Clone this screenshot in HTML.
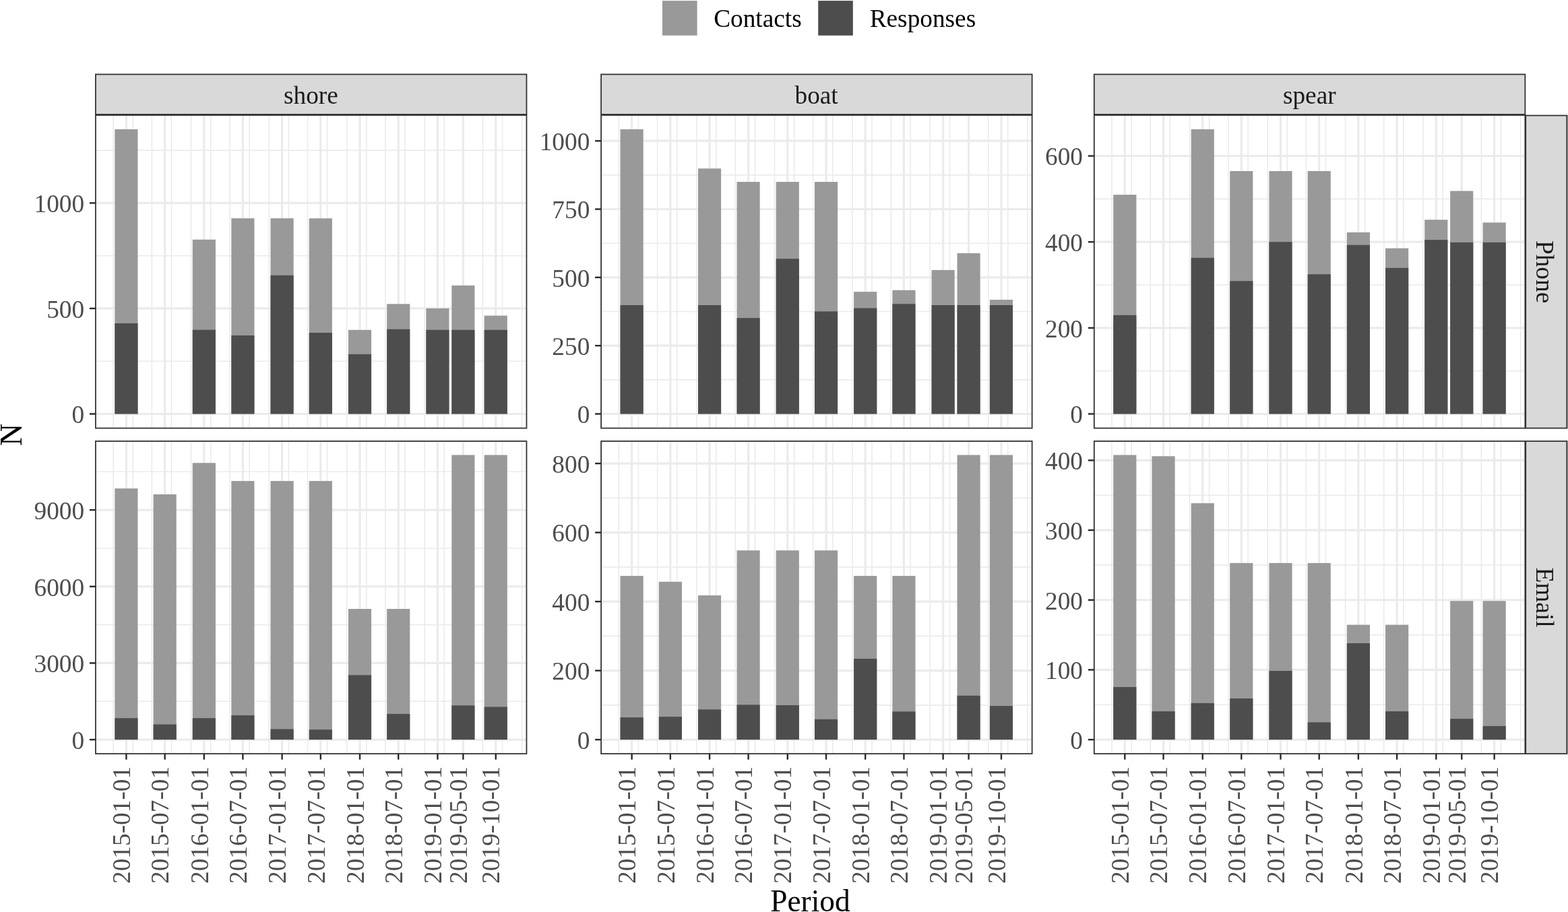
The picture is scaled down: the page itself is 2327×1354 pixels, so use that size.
<!DOCTYPE html>
<html><head><meta charset="utf-8"><title>Contacts and Responses by Period</title>
<style>
html,body{margin:0;padding:0;background:#fff;}
body{width:2327px;height:1354px;overflow:hidden;}
svg{display:block;}
text{font-family:"Liberation Serif","Times New Roman",serif;}
.ax{font-size:37.3px;fill:#4D4D4D;}
.st{font-size:37.3px;fill:#1A1A1A;}
.lg{font-size:37.3px;fill:#000000;}
.ti{font-size:46.0px;fill:#000000;}
</style></head>
<body>
<svg width="2327" height="1354" viewBox="0 0 2327 1354">
<rect width="2327" height="1354" fill="#FFFFFF"/>
<g>
<line x1="141.4" x2="781.45" y1="536.23" y2="536.23" stroke="#EBEBEB" stroke-width="1.6"/>
<line x1="141.4" x2="781.45" y1="379.68" y2="379.68" stroke="#EBEBEB" stroke-width="1.6"/>
<line x1="141.4" x2="781.45" y1="223.12" y2="223.12" stroke="#EBEBEB" stroke-width="1.6"/>
<line x1="168.13" x2="168.13" y1="171.4" y2="635.6" stroke="#EBEBEB" stroke-width="1.6"/>
<line x1="197.22" x2="197.22" y1="171.4" y2="635.6" stroke="#EBEBEB" stroke-width="1.6"/>
<line x1="225.37" x2="225.37" y1="171.4" y2="635.6" stroke="#EBEBEB" stroke-width="1.6"/>
<line x1="254.46" x2="254.46" y1="171.4" y2="635.6" stroke="#EBEBEB" stroke-width="1.6"/>
<line x1="283.55" x2="283.55" y1="171.4" y2="635.6" stroke="#EBEBEB" stroke-width="1.6"/>
<line x1="312.64" x2="312.64" y1="171.4" y2="635.6" stroke="#EBEBEB" stroke-width="1.6"/>
<line x1="341.1" x2="341.1" y1="171.4" y2="635.6" stroke="#EBEBEB" stroke-width="1.6"/>
<line x1="370.2" x2="370.2" y1="171.4" y2="635.6" stroke="#EBEBEB" stroke-width="1.6"/>
<line x1="399.29" x2="399.29" y1="171.4" y2="635.6" stroke="#EBEBEB" stroke-width="1.6"/>
<line x1="428.38" x2="428.38" y1="171.4" y2="635.6" stroke="#EBEBEB" stroke-width="1.6"/>
<line x1="456.52" x2="456.52" y1="171.4" y2="635.6" stroke="#EBEBEB" stroke-width="1.6"/>
<line x1="485.62" x2="485.62" y1="171.4" y2="635.6" stroke="#EBEBEB" stroke-width="1.6"/>
<line x1="514.71" x2="514.71" y1="171.4" y2="635.6" stroke="#EBEBEB" stroke-width="1.6"/>
<line x1="543.8" x2="543.8" y1="171.4" y2="635.6" stroke="#EBEBEB" stroke-width="1.6"/>
<line x1="571.94" x2="571.94" y1="171.4" y2="635.6" stroke="#EBEBEB" stroke-width="1.6"/>
<line x1="601.04" x2="601.04" y1="171.4" y2="635.6" stroke="#EBEBEB" stroke-width="1.6"/>
<line x1="630.13" x2="630.13" y1="171.4" y2="635.6" stroke="#EBEBEB" stroke-width="1.6"/>
<line x1="659.22" x2="659.22" y1="171.4" y2="635.6" stroke="#EBEBEB" stroke-width="1.6"/>
<line x1="716.46" x2="716.46" y1="171.4" y2="635.6" stroke="#EBEBEB" stroke-width="1.6"/>
<line x1="745.55" x2="745.55" y1="171.4" y2="635.6" stroke="#EBEBEB" stroke-width="1.6"/>
<line x1="774.64" x2="774.64" y1="171.4" y2="635.6" stroke="#EBEBEB" stroke-width="1.6"/>
<line x1="141.4" x2="781.45" y1="614.5" y2="614.5" stroke="#EBEBEB" stroke-width="3.2"/>
<line x1="141.4" x2="781.45" y1="457.95" y2="457.95" stroke="#EBEBEB" stroke-width="3.2"/>
<line x1="141.4" x2="781.45" y1="301.4" y2="301.4" stroke="#EBEBEB" stroke-width="3.2"/>
<line x1="187.42" x2="187.42" y1="171.4" y2="635.6" stroke="#EBEBEB" stroke-width="3.2"/>
<line x1="244.66" x2="244.66" y1="171.4" y2="635.6" stroke="#EBEBEB" stroke-width="3.2"/>
<line x1="302.84" x2="302.84" y1="171.4" y2="635.6" stroke="#EBEBEB" stroke-width="3.2"/>
<line x1="360.39" x2="360.39" y1="171.4" y2="635.6" stroke="#EBEBEB" stroke-width="3.2"/>
<line x1="418.58" x2="418.58" y1="171.4" y2="635.6" stroke="#EBEBEB" stroke-width="3.2"/>
<line x1="475.81" x2="475.81" y1="171.4" y2="635.6" stroke="#EBEBEB" stroke-width="3.2"/>
<line x1="534" x2="534" y1="171.4" y2="635.6" stroke="#EBEBEB" stroke-width="3.2"/>
<line x1="591.23" x2="591.23" y1="171.4" y2="635.6" stroke="#EBEBEB" stroke-width="3.2"/>
<line x1="649.42" x2="649.42" y1="171.4" y2="635.6" stroke="#EBEBEB" stroke-width="3.2"/>
<line x1="687.36" x2="687.36" y1="171.4" y2="635.6" stroke="#EBEBEB" stroke-width="3.2"/>
<line x1="735.75" x2="735.75" y1="171.4" y2="635.6" stroke="#EBEBEB" stroke-width="3.2"/>
<rect x="170.34" y="191.9" width="34.15" height="422.6" fill="#999999"/>
<rect x="170.34" y="480" width="34.15" height="134.5" fill="#4D4D4D"/>
<rect x="285.76" y="355.7" width="34.15" height="258.8" fill="#999999"/>
<rect x="285.76" y="489.7" width="34.15" height="124.8" fill="#4D4D4D"/>
<rect x="343.32" y="324.1" width="34.15" height="290.4" fill="#999999"/>
<rect x="343.32" y="498" width="34.15" height="116.5" fill="#4D4D4D"/>
<rect x="401.5" y="324.1" width="34.15" height="290.4" fill="#999999"/>
<rect x="401.5" y="408.8" width="34.15" height="205.7" fill="#4D4D4D"/>
<rect x="458.74" y="324.2" width="34.15" height="290.3" fill="#999999"/>
<rect x="458.74" y="494" width="34.15" height="120.5" fill="#4D4D4D"/>
<rect x="516.92" y="489.8" width="34.15" height="124.7" fill="#999999"/>
<rect x="516.92" y="525.9" width="34.15" height="88.6" fill="#4D4D4D"/>
<rect x="574.16" y="451.3" width="34.15" height="163.2" fill="#999999"/>
<rect x="574.16" y="488.75" width="34.15" height="125.75" fill="#4D4D4D"/>
<rect x="632.34" y="457.8" width="34.15" height="156.7" fill="#999999"/>
<rect x="632.34" y="489.8" width="34.15" height="124.7" fill="#4D4D4D"/>
<rect x="670.29" y="423.8" width="34.15" height="190.7" fill="#999999"/>
<rect x="670.29" y="489.8" width="34.15" height="124.7" fill="#4D4D4D"/>
<rect x="718.67" y="468.6" width="34.15" height="145.9" fill="#999999"/>
<rect x="718.67" y="489.8" width="34.15" height="124.7" fill="#4D4D4D"/>
<rect x="141.9" y="171" width="639.55" height="464.65" fill="none" stroke="#333333" stroke-width="1.8"/>
<line x1="132.9" x2="141.9" y1="614.5" y2="614.5" stroke="#282828" stroke-width="2.4"/>
<text x="125.1" y="628.3" text-anchor="end" class="ax">0</text>
<line x1="132.9" x2="141.9" y1="457.95" y2="457.95" stroke="#282828" stroke-width="2.4"/>
<text x="125.1" y="471.75" text-anchor="end" class="ax">500</text>
<line x1="132.9" x2="141.9" y1="301.4" y2="301.4" stroke="#282828" stroke-width="2.4"/>
<text x="125.1" y="315.2" text-anchor="end" class="ax">1000</text>
</g>
<g>
<line x1="891.6" x2="1531.65" y1="563.84" y2="563.84" stroke="#EBEBEB" stroke-width="1.6"/>
<line x1="891.6" x2="1531.65" y1="462.51" y2="462.51" stroke="#EBEBEB" stroke-width="1.6"/>
<line x1="891.6" x2="1531.65" y1="361.19" y2="361.19" stroke="#EBEBEB" stroke-width="1.6"/>
<line x1="891.6" x2="1531.65" y1="259.86" y2="259.86" stroke="#EBEBEB" stroke-width="1.6"/>
<line x1="918.33" x2="918.33" y1="171.4" y2="635.6" stroke="#EBEBEB" stroke-width="1.6"/>
<line x1="947.42" x2="947.42" y1="171.4" y2="635.6" stroke="#EBEBEB" stroke-width="1.6"/>
<line x1="975.57" x2="975.57" y1="171.4" y2="635.6" stroke="#EBEBEB" stroke-width="1.6"/>
<line x1="1004.66" x2="1004.66" y1="171.4" y2="635.6" stroke="#EBEBEB" stroke-width="1.6"/>
<line x1="1033.75" x2="1033.75" y1="171.4" y2="635.6" stroke="#EBEBEB" stroke-width="1.6"/>
<line x1="1062.84" x2="1062.84" y1="171.4" y2="635.6" stroke="#EBEBEB" stroke-width="1.6"/>
<line x1="1091.3" x2="1091.3" y1="171.4" y2="635.6" stroke="#EBEBEB" stroke-width="1.6"/>
<line x1="1120.4" x2="1120.4" y1="171.4" y2="635.6" stroke="#EBEBEB" stroke-width="1.6"/>
<line x1="1149.49" x2="1149.49" y1="171.4" y2="635.6" stroke="#EBEBEB" stroke-width="1.6"/>
<line x1="1178.58" x2="1178.58" y1="171.4" y2="635.6" stroke="#EBEBEB" stroke-width="1.6"/>
<line x1="1206.72" x2="1206.72" y1="171.4" y2="635.6" stroke="#EBEBEB" stroke-width="1.6"/>
<line x1="1235.82" x2="1235.82" y1="171.4" y2="635.6" stroke="#EBEBEB" stroke-width="1.6"/>
<line x1="1264.91" x2="1264.91" y1="171.4" y2="635.6" stroke="#EBEBEB" stroke-width="1.6"/>
<line x1="1294" x2="1294" y1="171.4" y2="635.6" stroke="#EBEBEB" stroke-width="1.6"/>
<line x1="1322.14" x2="1322.14" y1="171.4" y2="635.6" stroke="#EBEBEB" stroke-width="1.6"/>
<line x1="1351.24" x2="1351.24" y1="171.4" y2="635.6" stroke="#EBEBEB" stroke-width="1.6"/>
<line x1="1380.33" x2="1380.33" y1="171.4" y2="635.6" stroke="#EBEBEB" stroke-width="1.6"/>
<line x1="1409.42" x2="1409.42" y1="171.4" y2="635.6" stroke="#EBEBEB" stroke-width="1.6"/>
<line x1="1466.66" x2="1466.66" y1="171.4" y2="635.6" stroke="#EBEBEB" stroke-width="1.6"/>
<line x1="1495.75" x2="1495.75" y1="171.4" y2="635.6" stroke="#EBEBEB" stroke-width="1.6"/>
<line x1="1524.84" x2="1524.84" y1="171.4" y2="635.6" stroke="#EBEBEB" stroke-width="1.6"/>
<line x1="891.6" x2="1531.65" y1="614.5" y2="614.5" stroke="#EBEBEB" stroke-width="3.2"/>
<line x1="891.6" x2="1531.65" y1="513.17" y2="513.17" stroke="#EBEBEB" stroke-width="3.2"/>
<line x1="891.6" x2="1531.65" y1="411.85" y2="411.85" stroke="#EBEBEB" stroke-width="3.2"/>
<line x1="891.6" x2="1531.65" y1="310.52" y2="310.52" stroke="#EBEBEB" stroke-width="3.2"/>
<line x1="891.6" x2="1531.65" y1="209.2" y2="209.2" stroke="#EBEBEB" stroke-width="3.2"/>
<line x1="937.62" x2="937.62" y1="171.4" y2="635.6" stroke="#EBEBEB" stroke-width="3.2"/>
<line x1="994.86" x2="994.86" y1="171.4" y2="635.6" stroke="#EBEBEB" stroke-width="3.2"/>
<line x1="1053.04" x2="1053.04" y1="171.4" y2="635.6" stroke="#EBEBEB" stroke-width="3.2"/>
<line x1="1110.59" x2="1110.59" y1="171.4" y2="635.6" stroke="#EBEBEB" stroke-width="3.2"/>
<line x1="1168.78" x2="1168.78" y1="171.4" y2="635.6" stroke="#EBEBEB" stroke-width="3.2"/>
<line x1="1226.01" x2="1226.01" y1="171.4" y2="635.6" stroke="#EBEBEB" stroke-width="3.2"/>
<line x1="1284.2" x2="1284.2" y1="171.4" y2="635.6" stroke="#EBEBEB" stroke-width="3.2"/>
<line x1="1341.43" x2="1341.43" y1="171.4" y2="635.6" stroke="#EBEBEB" stroke-width="3.2"/>
<line x1="1399.62" x2="1399.62" y1="171.4" y2="635.6" stroke="#EBEBEB" stroke-width="3.2"/>
<line x1="1437.56" x2="1437.56" y1="171.4" y2="635.6" stroke="#EBEBEB" stroke-width="3.2"/>
<line x1="1485.95" x2="1485.95" y1="171.4" y2="635.6" stroke="#EBEBEB" stroke-width="3.2"/>
<rect x="920.54" y="191.9" width="34.15" height="422.6" fill="#999999"/>
<rect x="920.54" y="453" width="34.15" height="161.5" fill="#4D4D4D"/>
<rect x="1035.96" y="250.2" width="34.15" height="364.3" fill="#999999"/>
<rect x="1035.96" y="453" width="34.15" height="161.5" fill="#4D4D4D"/>
<rect x="1093.52" y="270" width="34.15" height="344.5" fill="#999999"/>
<rect x="1093.52" y="472.1" width="34.15" height="142.4" fill="#4D4D4D"/>
<rect x="1151.7" y="270" width="34.15" height="344.5" fill="#999999"/>
<rect x="1151.7" y="384.2" width="34.15" height="230.3" fill="#4D4D4D"/>
<rect x="1208.94" y="270" width="34.15" height="344.5" fill="#999999"/>
<rect x="1208.94" y="462.4" width="34.15" height="152.1" fill="#4D4D4D"/>
<rect x="1267.12" y="433.2" width="34.15" height="181.3" fill="#999999"/>
<rect x="1267.12" y="457.5" width="34.15" height="157" fill="#4D4D4D"/>
<rect x="1324.36" y="430.8" width="34.15" height="183.7" fill="#999999"/>
<rect x="1324.36" y="451.25" width="34.15" height="163.25" fill="#4D4D4D"/>
<rect x="1382.54" y="400.9" width="34.15" height="213.6" fill="#999999"/>
<rect x="1382.54" y="453" width="34.15" height="161.5" fill="#4D4D4D"/>
<rect x="1420.49" y="375.9" width="34.15" height="238.6" fill="#999999"/>
<rect x="1420.49" y="453" width="34.15" height="161.5" fill="#4D4D4D"/>
<rect x="1468.87" y="445" width="34.15" height="169.5" fill="#999999"/>
<rect x="1468.87" y="453" width="34.15" height="161.5" fill="#4D4D4D"/>
<rect x="892.1" y="171" width="639.55" height="464.65" fill="none" stroke="#333333" stroke-width="1.8"/>
<line x1="883.1" x2="892.1" y1="614.5" y2="614.5" stroke="#282828" stroke-width="2.4"/>
<text x="875.3" y="628.3" text-anchor="end" class="ax">0</text>
<line x1="883.1" x2="892.1" y1="513.17" y2="513.17" stroke="#282828" stroke-width="2.4"/>
<text x="875.3" y="526.97" text-anchor="end" class="ax">250</text>
<line x1="883.1" x2="892.1" y1="411.85" y2="411.85" stroke="#282828" stroke-width="2.4"/>
<text x="875.3" y="425.65" text-anchor="end" class="ax">500</text>
<line x1="883.1" x2="892.1" y1="310.52" y2="310.52" stroke="#282828" stroke-width="2.4"/>
<text x="875.3" y="324.32" text-anchor="end" class="ax">750</text>
<line x1="883.1" x2="892.1" y1="209.2" y2="209.2" stroke="#282828" stroke-width="2.4"/>
<text x="875.3" y="223" text-anchor="end" class="ax">1000</text>
</g>
<g>
<line x1="1623.3" x2="2263.35" y1="550.67" y2="550.67" stroke="#EBEBEB" stroke-width="1.6"/>
<line x1="1623.3" x2="2263.35" y1="423.01" y2="423.01" stroke="#EBEBEB" stroke-width="1.6"/>
<line x1="1623.3" x2="2263.35" y1="295.35" y2="295.35" stroke="#EBEBEB" stroke-width="1.6"/>
<line x1="1650.03" x2="1650.03" y1="171.4" y2="635.6" stroke="#EBEBEB" stroke-width="1.6"/>
<line x1="1679.12" x2="1679.12" y1="171.4" y2="635.6" stroke="#EBEBEB" stroke-width="1.6"/>
<line x1="1707.27" x2="1707.27" y1="171.4" y2="635.6" stroke="#EBEBEB" stroke-width="1.6"/>
<line x1="1736.36" x2="1736.36" y1="171.4" y2="635.6" stroke="#EBEBEB" stroke-width="1.6"/>
<line x1="1765.45" x2="1765.45" y1="171.4" y2="635.6" stroke="#EBEBEB" stroke-width="1.6"/>
<line x1="1794.54" x2="1794.54" y1="171.4" y2="635.6" stroke="#EBEBEB" stroke-width="1.6"/>
<line x1="1823" x2="1823" y1="171.4" y2="635.6" stroke="#EBEBEB" stroke-width="1.6"/>
<line x1="1852.1" x2="1852.1" y1="171.4" y2="635.6" stroke="#EBEBEB" stroke-width="1.6"/>
<line x1="1881.19" x2="1881.19" y1="171.4" y2="635.6" stroke="#EBEBEB" stroke-width="1.6"/>
<line x1="1910.28" x2="1910.28" y1="171.4" y2="635.6" stroke="#EBEBEB" stroke-width="1.6"/>
<line x1="1938.42" x2="1938.42" y1="171.4" y2="635.6" stroke="#EBEBEB" stroke-width="1.6"/>
<line x1="1967.52" x2="1967.52" y1="171.4" y2="635.6" stroke="#EBEBEB" stroke-width="1.6"/>
<line x1="1996.61" x2="1996.61" y1="171.4" y2="635.6" stroke="#EBEBEB" stroke-width="1.6"/>
<line x1="2025.7" x2="2025.7" y1="171.4" y2="635.6" stroke="#EBEBEB" stroke-width="1.6"/>
<line x1="2053.84" x2="2053.84" y1="171.4" y2="635.6" stroke="#EBEBEB" stroke-width="1.6"/>
<line x1="2082.94" x2="2082.94" y1="171.4" y2="635.6" stroke="#EBEBEB" stroke-width="1.6"/>
<line x1="2112.03" x2="2112.03" y1="171.4" y2="635.6" stroke="#EBEBEB" stroke-width="1.6"/>
<line x1="2141.12" x2="2141.12" y1="171.4" y2="635.6" stroke="#EBEBEB" stroke-width="1.6"/>
<line x1="2198.36" x2="2198.36" y1="171.4" y2="635.6" stroke="#EBEBEB" stroke-width="1.6"/>
<line x1="2227.45" x2="2227.45" y1="171.4" y2="635.6" stroke="#EBEBEB" stroke-width="1.6"/>
<line x1="2256.54" x2="2256.54" y1="171.4" y2="635.6" stroke="#EBEBEB" stroke-width="1.6"/>
<line x1="1623.3" x2="2263.35" y1="614.5" y2="614.5" stroke="#EBEBEB" stroke-width="3.2"/>
<line x1="1623.3" x2="2263.35" y1="486.84" y2="486.84" stroke="#EBEBEB" stroke-width="3.2"/>
<line x1="1623.3" x2="2263.35" y1="359.18" y2="359.18" stroke="#EBEBEB" stroke-width="3.2"/>
<line x1="1623.3" x2="2263.35" y1="231.52" y2="231.52" stroke="#EBEBEB" stroke-width="3.2"/>
<line x1="1669.32" x2="1669.32" y1="171.4" y2="635.6" stroke="#EBEBEB" stroke-width="3.2"/>
<line x1="1726.56" x2="1726.56" y1="171.4" y2="635.6" stroke="#EBEBEB" stroke-width="3.2"/>
<line x1="1784.74" x2="1784.74" y1="171.4" y2="635.6" stroke="#EBEBEB" stroke-width="3.2"/>
<line x1="1842.29" x2="1842.29" y1="171.4" y2="635.6" stroke="#EBEBEB" stroke-width="3.2"/>
<line x1="1900.48" x2="1900.48" y1="171.4" y2="635.6" stroke="#EBEBEB" stroke-width="3.2"/>
<line x1="1957.71" x2="1957.71" y1="171.4" y2="635.6" stroke="#EBEBEB" stroke-width="3.2"/>
<line x1="2015.9" x2="2015.9" y1="171.4" y2="635.6" stroke="#EBEBEB" stroke-width="3.2"/>
<line x1="2073.13" x2="2073.13" y1="171.4" y2="635.6" stroke="#EBEBEB" stroke-width="3.2"/>
<line x1="2131.32" x2="2131.32" y1="171.4" y2="635.6" stroke="#EBEBEB" stroke-width="3.2"/>
<line x1="2169.26" x2="2169.26" y1="171.4" y2="635.6" stroke="#EBEBEB" stroke-width="3.2"/>
<line x1="2217.65" x2="2217.65" y1="171.4" y2="635.6" stroke="#EBEBEB" stroke-width="3.2"/>
<rect x="1652.24" y="289.1" width="34.15" height="325.4" fill="#999999"/>
<rect x="1652.24" y="467.9" width="34.15" height="146.6" fill="#4D4D4D"/>
<rect x="1767.66" y="191.9" width="34.15" height="422.6" fill="#999999"/>
<rect x="1767.66" y="382.8" width="34.15" height="231.7" fill="#4D4D4D"/>
<rect x="1825.22" y="254" width="34.15" height="360.5" fill="#999999"/>
<rect x="1825.22" y="417.2" width="34.15" height="197.3" fill="#4D4D4D"/>
<rect x="1883.4" y="254" width="34.15" height="360.5" fill="#999999"/>
<rect x="1883.4" y="359.2" width="34.15" height="255.3" fill="#4D4D4D"/>
<rect x="1940.64" y="254" width="34.15" height="360.5" fill="#999999"/>
<rect x="1940.64" y="407.2" width="34.15" height="207.3" fill="#4D4D4D"/>
<rect x="1998.82" y="345" width="34.15" height="269.5" fill="#999999"/>
<rect x="1998.82" y="363.75" width="34.15" height="250.75" fill="#4D4D4D"/>
<rect x="2056.06" y="368.6" width="34.15" height="245.9" fill="#999999"/>
<rect x="2056.06" y="397.8" width="34.15" height="216.7" fill="#4D4D4D"/>
<rect x="2114.24" y="326.25" width="34.15" height="288.25" fill="#999999"/>
<rect x="2114.24" y="356.1" width="34.15" height="258.4" fill="#4D4D4D"/>
<rect x="2152.19" y="283.5" width="34.15" height="331" fill="#999999"/>
<rect x="2152.19" y="359.9" width="34.15" height="254.6" fill="#4D4D4D"/>
<rect x="2200.57" y="330.4" width="34.15" height="284.1" fill="#999999"/>
<rect x="2200.57" y="359.9" width="34.15" height="254.6" fill="#4D4D4D"/>
<rect x="1623.8" y="171" width="639.55" height="464.65" fill="none" stroke="#333333" stroke-width="1.8"/>
<line x1="1614.8" x2="1623.8" y1="614.5" y2="614.5" stroke="#282828" stroke-width="2.4"/>
<text x="1607" y="628.3" text-anchor="end" class="ax">0</text>
<line x1="1614.8" x2="1623.8" y1="486.84" y2="486.84" stroke="#282828" stroke-width="2.4"/>
<text x="1607" y="500.64" text-anchor="end" class="ax">200</text>
<line x1="1614.8" x2="1623.8" y1="359.18" y2="359.18" stroke="#282828" stroke-width="2.4"/>
<text x="1607" y="372.98" text-anchor="end" class="ax">400</text>
<line x1="1614.8" x2="1623.8" y1="231.52" y2="231.52" stroke="#282828" stroke-width="2.4"/>
<text x="1607" y="245.32" text-anchor="end" class="ax">600</text>
</g>
<g>
<line x1="141.4" x2="781.45" y1="1041.27" y2="1041.27" stroke="#EBEBEB" stroke-width="1.6"/>
<line x1="141.4" x2="781.45" y1="927.6" y2="927.6" stroke="#EBEBEB" stroke-width="1.6"/>
<line x1="141.4" x2="781.45" y1="813.93" y2="813.93" stroke="#EBEBEB" stroke-width="1.6"/>
<line x1="141.4" x2="781.45" y1="700.27" y2="700.27" stroke="#EBEBEB" stroke-width="1.6"/>
<line x1="168.13" x2="168.13" y1="655" y2="1119.2" stroke="#EBEBEB" stroke-width="1.6"/>
<line x1="197.22" x2="197.22" y1="655" y2="1119.2" stroke="#EBEBEB" stroke-width="1.6"/>
<line x1="225.37" x2="225.37" y1="655" y2="1119.2" stroke="#EBEBEB" stroke-width="1.6"/>
<line x1="254.46" x2="254.46" y1="655" y2="1119.2" stroke="#EBEBEB" stroke-width="1.6"/>
<line x1="283.55" x2="283.55" y1="655" y2="1119.2" stroke="#EBEBEB" stroke-width="1.6"/>
<line x1="312.64" x2="312.64" y1="655" y2="1119.2" stroke="#EBEBEB" stroke-width="1.6"/>
<line x1="341.1" x2="341.1" y1="655" y2="1119.2" stroke="#EBEBEB" stroke-width="1.6"/>
<line x1="370.2" x2="370.2" y1="655" y2="1119.2" stroke="#EBEBEB" stroke-width="1.6"/>
<line x1="399.29" x2="399.29" y1="655" y2="1119.2" stroke="#EBEBEB" stroke-width="1.6"/>
<line x1="428.38" x2="428.38" y1="655" y2="1119.2" stroke="#EBEBEB" stroke-width="1.6"/>
<line x1="456.52" x2="456.52" y1="655" y2="1119.2" stroke="#EBEBEB" stroke-width="1.6"/>
<line x1="485.62" x2="485.62" y1="655" y2="1119.2" stroke="#EBEBEB" stroke-width="1.6"/>
<line x1="514.71" x2="514.71" y1="655" y2="1119.2" stroke="#EBEBEB" stroke-width="1.6"/>
<line x1="543.8" x2="543.8" y1="655" y2="1119.2" stroke="#EBEBEB" stroke-width="1.6"/>
<line x1="571.94" x2="571.94" y1="655" y2="1119.2" stroke="#EBEBEB" stroke-width="1.6"/>
<line x1="601.04" x2="601.04" y1="655" y2="1119.2" stroke="#EBEBEB" stroke-width="1.6"/>
<line x1="630.13" x2="630.13" y1="655" y2="1119.2" stroke="#EBEBEB" stroke-width="1.6"/>
<line x1="659.22" x2="659.22" y1="655" y2="1119.2" stroke="#EBEBEB" stroke-width="1.6"/>
<line x1="716.46" x2="716.46" y1="655" y2="1119.2" stroke="#EBEBEB" stroke-width="1.6"/>
<line x1="745.55" x2="745.55" y1="655" y2="1119.2" stroke="#EBEBEB" stroke-width="1.6"/>
<line x1="774.64" x2="774.64" y1="655" y2="1119.2" stroke="#EBEBEB" stroke-width="1.6"/>
<line x1="141.4" x2="781.45" y1="1098.1" y2="1098.1" stroke="#EBEBEB" stroke-width="3.2"/>
<line x1="141.4" x2="781.45" y1="984.43" y2="984.43" stroke="#EBEBEB" stroke-width="3.2"/>
<line x1="141.4" x2="781.45" y1="870.77" y2="870.77" stroke="#EBEBEB" stroke-width="3.2"/>
<line x1="141.4" x2="781.45" y1="757.1" y2="757.1" stroke="#EBEBEB" stroke-width="3.2"/>
<line x1="187.42" x2="187.42" y1="655" y2="1119.2" stroke="#EBEBEB" stroke-width="3.2"/>
<line x1="244.66" x2="244.66" y1="655" y2="1119.2" stroke="#EBEBEB" stroke-width="3.2"/>
<line x1="302.84" x2="302.84" y1="655" y2="1119.2" stroke="#EBEBEB" stroke-width="3.2"/>
<line x1="360.39" x2="360.39" y1="655" y2="1119.2" stroke="#EBEBEB" stroke-width="3.2"/>
<line x1="418.58" x2="418.58" y1="655" y2="1119.2" stroke="#EBEBEB" stroke-width="3.2"/>
<line x1="475.81" x2="475.81" y1="655" y2="1119.2" stroke="#EBEBEB" stroke-width="3.2"/>
<line x1="534" x2="534" y1="655" y2="1119.2" stroke="#EBEBEB" stroke-width="3.2"/>
<line x1="591.23" x2="591.23" y1="655" y2="1119.2" stroke="#EBEBEB" stroke-width="3.2"/>
<line x1="649.42" x2="649.42" y1="655" y2="1119.2" stroke="#EBEBEB" stroke-width="3.2"/>
<line x1="687.36" x2="687.36" y1="655" y2="1119.2" stroke="#EBEBEB" stroke-width="3.2"/>
<line x1="735.75" x2="735.75" y1="655" y2="1119.2" stroke="#EBEBEB" stroke-width="3.2"/>
<rect x="170.34" y="725.2" width="34.15" height="372.9" fill="#999999"/>
<rect x="170.34" y="1066.2" width="34.15" height="31.9" fill="#4D4D4D"/>
<rect x="227.58" y="733.9" width="34.15" height="364.2" fill="#999999"/>
<rect x="227.58" y="1075.5" width="34.15" height="22.6" fill="#4D4D4D"/>
<rect x="285.76" y="687.3" width="34.15" height="410.8" fill="#999999"/>
<rect x="285.76" y="1066.2" width="34.15" height="31.9" fill="#4D4D4D"/>
<rect x="343.32" y="714.1" width="34.15" height="384" fill="#999999"/>
<rect x="343.32" y="1062" width="34.15" height="36.1" fill="#4D4D4D"/>
<rect x="401.5" y="714.1" width="34.15" height="384" fill="#999999"/>
<rect x="401.5" y="1082.5" width="34.15" height="15.6" fill="#4D4D4D"/>
<rect x="458.74" y="714.1" width="34.15" height="384" fill="#999999"/>
<rect x="458.74" y="1083.2" width="34.15" height="14.9" fill="#4D4D4D"/>
<rect x="516.92" y="904" width="34.15" height="194.1" fill="#999999"/>
<rect x="516.92" y="1002.3" width="34.15" height="95.8" fill="#4D4D4D"/>
<rect x="574.16" y="904" width="34.15" height="194.1" fill="#999999"/>
<rect x="574.16" y="1059.9" width="34.15" height="38.2" fill="#4D4D4D"/>
<rect x="670.29" y="675.5" width="34.15" height="422.6" fill="#999999"/>
<rect x="670.29" y="1047.4" width="34.15" height="50.7" fill="#4D4D4D"/>
<rect x="718.67" y="675.5" width="34.15" height="422.6" fill="#999999"/>
<rect x="718.67" y="1049.5" width="34.15" height="48.6" fill="#4D4D4D"/>
<rect x="141.9" y="655" width="639.55" height="464" fill="none" stroke="#333333" stroke-width="1.8"/>
<line x1="132.9" x2="141.9" y1="1098.1" y2="1098.1" stroke="#282828" stroke-width="2.4"/>
<text x="125.1" y="1111.9" text-anchor="end" class="ax">0</text>
<line x1="132.9" x2="141.9" y1="984.43" y2="984.43" stroke="#282828" stroke-width="2.4"/>
<text x="125.1" y="998.23" text-anchor="end" class="ax">3000</text>
<line x1="132.9" x2="141.9" y1="870.77" y2="870.77" stroke="#282828" stroke-width="2.4"/>
<text x="125.1" y="884.57" text-anchor="end" class="ax">6000</text>
<line x1="132.9" x2="141.9" y1="757.1" y2="757.1" stroke="#282828" stroke-width="2.4"/>
<text x="125.1" y="770.9" text-anchor="end" class="ax">9000</text>
</g>
<g>
<line x1="891.6" x2="1531.65" y1="1046.85" y2="1046.85" stroke="#EBEBEB" stroke-width="1.6"/>
<line x1="891.6" x2="1531.65" y1="944.35" y2="944.35" stroke="#EBEBEB" stroke-width="1.6"/>
<line x1="891.6" x2="1531.65" y1="841.85" y2="841.85" stroke="#EBEBEB" stroke-width="1.6"/>
<line x1="891.6" x2="1531.65" y1="739.35" y2="739.35" stroke="#EBEBEB" stroke-width="1.6"/>
<line x1="918.33" x2="918.33" y1="655" y2="1119.2" stroke="#EBEBEB" stroke-width="1.6"/>
<line x1="947.42" x2="947.42" y1="655" y2="1119.2" stroke="#EBEBEB" stroke-width="1.6"/>
<line x1="975.57" x2="975.57" y1="655" y2="1119.2" stroke="#EBEBEB" stroke-width="1.6"/>
<line x1="1004.66" x2="1004.66" y1="655" y2="1119.2" stroke="#EBEBEB" stroke-width="1.6"/>
<line x1="1033.75" x2="1033.75" y1="655" y2="1119.2" stroke="#EBEBEB" stroke-width="1.6"/>
<line x1="1062.84" x2="1062.84" y1="655" y2="1119.2" stroke="#EBEBEB" stroke-width="1.6"/>
<line x1="1091.3" x2="1091.3" y1="655" y2="1119.2" stroke="#EBEBEB" stroke-width="1.6"/>
<line x1="1120.4" x2="1120.4" y1="655" y2="1119.2" stroke="#EBEBEB" stroke-width="1.6"/>
<line x1="1149.49" x2="1149.49" y1="655" y2="1119.2" stroke="#EBEBEB" stroke-width="1.6"/>
<line x1="1178.58" x2="1178.58" y1="655" y2="1119.2" stroke="#EBEBEB" stroke-width="1.6"/>
<line x1="1206.72" x2="1206.72" y1="655" y2="1119.2" stroke="#EBEBEB" stroke-width="1.6"/>
<line x1="1235.82" x2="1235.82" y1="655" y2="1119.2" stroke="#EBEBEB" stroke-width="1.6"/>
<line x1="1264.91" x2="1264.91" y1="655" y2="1119.2" stroke="#EBEBEB" stroke-width="1.6"/>
<line x1="1294" x2="1294" y1="655" y2="1119.2" stroke="#EBEBEB" stroke-width="1.6"/>
<line x1="1322.14" x2="1322.14" y1="655" y2="1119.2" stroke="#EBEBEB" stroke-width="1.6"/>
<line x1="1351.24" x2="1351.24" y1="655" y2="1119.2" stroke="#EBEBEB" stroke-width="1.6"/>
<line x1="1380.33" x2="1380.33" y1="655" y2="1119.2" stroke="#EBEBEB" stroke-width="1.6"/>
<line x1="1409.42" x2="1409.42" y1="655" y2="1119.2" stroke="#EBEBEB" stroke-width="1.6"/>
<line x1="1466.66" x2="1466.66" y1="655" y2="1119.2" stroke="#EBEBEB" stroke-width="1.6"/>
<line x1="1495.75" x2="1495.75" y1="655" y2="1119.2" stroke="#EBEBEB" stroke-width="1.6"/>
<line x1="1524.84" x2="1524.84" y1="655" y2="1119.2" stroke="#EBEBEB" stroke-width="1.6"/>
<line x1="891.6" x2="1531.65" y1="1098.1" y2="1098.1" stroke="#EBEBEB" stroke-width="3.2"/>
<line x1="891.6" x2="1531.65" y1="995.6" y2="995.6" stroke="#EBEBEB" stroke-width="3.2"/>
<line x1="891.6" x2="1531.65" y1="893.1" y2="893.1" stroke="#EBEBEB" stroke-width="3.2"/>
<line x1="891.6" x2="1531.65" y1="790.6" y2="790.6" stroke="#EBEBEB" stroke-width="3.2"/>
<line x1="891.6" x2="1531.65" y1="688.1" y2="688.1" stroke="#EBEBEB" stroke-width="3.2"/>
<line x1="937.62" x2="937.62" y1="655" y2="1119.2" stroke="#EBEBEB" stroke-width="3.2"/>
<line x1="994.86" x2="994.86" y1="655" y2="1119.2" stroke="#EBEBEB" stroke-width="3.2"/>
<line x1="1053.04" x2="1053.04" y1="655" y2="1119.2" stroke="#EBEBEB" stroke-width="3.2"/>
<line x1="1110.59" x2="1110.59" y1="655" y2="1119.2" stroke="#EBEBEB" stroke-width="3.2"/>
<line x1="1168.78" x2="1168.78" y1="655" y2="1119.2" stroke="#EBEBEB" stroke-width="3.2"/>
<line x1="1226.01" x2="1226.01" y1="655" y2="1119.2" stroke="#EBEBEB" stroke-width="3.2"/>
<line x1="1284.2" x2="1284.2" y1="655" y2="1119.2" stroke="#EBEBEB" stroke-width="3.2"/>
<line x1="1341.43" x2="1341.43" y1="655" y2="1119.2" stroke="#EBEBEB" stroke-width="3.2"/>
<line x1="1399.62" x2="1399.62" y1="655" y2="1119.2" stroke="#EBEBEB" stroke-width="3.2"/>
<line x1="1437.56" x2="1437.56" y1="655" y2="1119.2" stroke="#EBEBEB" stroke-width="3.2"/>
<line x1="1485.95" x2="1485.95" y1="655" y2="1119.2" stroke="#EBEBEB" stroke-width="3.2"/>
<rect x="920.54" y="855" width="34.15" height="243.1" fill="#999999"/>
<rect x="920.54" y="1065.1" width="34.15" height="33" fill="#4D4D4D"/>
<rect x="977.78" y="863.7" width="34.15" height="234.4" fill="#999999"/>
<rect x="977.78" y="1064.1" width="34.15" height="34" fill="#4D4D4D"/>
<rect x="1035.96" y="883.9" width="34.15" height="214.2" fill="#999999"/>
<rect x="1035.96" y="1053.3" width="34.15" height="44.8" fill="#4D4D4D"/>
<rect x="1093.52" y="817.2" width="34.15" height="280.9" fill="#999999"/>
<rect x="1093.52" y="1046.4" width="34.15" height="51.7" fill="#4D4D4D"/>
<rect x="1151.7" y="817.2" width="34.15" height="280.9" fill="#999999"/>
<rect x="1151.7" y="1047" width="34.15" height="51.1" fill="#4D4D4D"/>
<rect x="1208.94" y="817.2" width="34.15" height="280.9" fill="#999999"/>
<rect x="1208.94" y="1067.9" width="34.15" height="30.2" fill="#4D4D4D"/>
<rect x="1267.12" y="855" width="34.15" height="243.1" fill="#999999"/>
<rect x="1267.12" y="978" width="34.15" height="120.1" fill="#4D4D4D"/>
<rect x="1324.36" y="855" width="34.15" height="243.1" fill="#999999"/>
<rect x="1324.36" y="1056.4" width="34.15" height="41.7" fill="#4D4D4D"/>
<rect x="1420.49" y="675.5" width="34.15" height="422.6" fill="#999999"/>
<rect x="1420.49" y="1032.8" width="34.15" height="65.3" fill="#4D4D4D"/>
<rect x="1468.87" y="675.5" width="34.15" height="422.6" fill="#999999"/>
<rect x="1468.87" y="1048.1" width="34.15" height="50" fill="#4D4D4D"/>
<rect x="892.1" y="655" width="639.55" height="464" fill="none" stroke="#333333" stroke-width="1.8"/>
<line x1="883.1" x2="892.1" y1="1098.1" y2="1098.1" stroke="#282828" stroke-width="2.4"/>
<text x="875.3" y="1111.9" text-anchor="end" class="ax">0</text>
<line x1="883.1" x2="892.1" y1="995.6" y2="995.6" stroke="#282828" stroke-width="2.4"/>
<text x="875.3" y="1009.4" text-anchor="end" class="ax">200</text>
<line x1="883.1" x2="892.1" y1="893.1" y2="893.1" stroke="#282828" stroke-width="2.4"/>
<text x="875.3" y="906.9" text-anchor="end" class="ax">400</text>
<line x1="883.1" x2="892.1" y1="790.6" y2="790.6" stroke="#282828" stroke-width="2.4"/>
<text x="875.3" y="804.4" text-anchor="end" class="ax">600</text>
<line x1="883.1" x2="892.1" y1="688.1" y2="688.1" stroke="#282828" stroke-width="2.4"/>
<text x="875.3" y="701.9" text-anchor="end" class="ax">800</text>
</g>
<g>
<line x1="1623.3" x2="2263.35" y1="1046.26" y2="1046.26" stroke="#EBEBEB" stroke-width="1.6"/>
<line x1="1623.3" x2="2263.35" y1="942.59" y2="942.59" stroke="#EBEBEB" stroke-width="1.6"/>
<line x1="1623.3" x2="2263.35" y1="838.92" y2="838.92" stroke="#EBEBEB" stroke-width="1.6"/>
<line x1="1623.3" x2="2263.35" y1="735.25" y2="735.25" stroke="#EBEBEB" stroke-width="1.6"/>
<line x1="1650.03" x2="1650.03" y1="655" y2="1119.2" stroke="#EBEBEB" stroke-width="1.6"/>
<line x1="1679.12" x2="1679.12" y1="655" y2="1119.2" stroke="#EBEBEB" stroke-width="1.6"/>
<line x1="1707.27" x2="1707.27" y1="655" y2="1119.2" stroke="#EBEBEB" stroke-width="1.6"/>
<line x1="1736.36" x2="1736.36" y1="655" y2="1119.2" stroke="#EBEBEB" stroke-width="1.6"/>
<line x1="1765.45" x2="1765.45" y1="655" y2="1119.2" stroke="#EBEBEB" stroke-width="1.6"/>
<line x1="1794.54" x2="1794.54" y1="655" y2="1119.2" stroke="#EBEBEB" stroke-width="1.6"/>
<line x1="1823" x2="1823" y1="655" y2="1119.2" stroke="#EBEBEB" stroke-width="1.6"/>
<line x1="1852.1" x2="1852.1" y1="655" y2="1119.2" stroke="#EBEBEB" stroke-width="1.6"/>
<line x1="1881.19" x2="1881.19" y1="655" y2="1119.2" stroke="#EBEBEB" stroke-width="1.6"/>
<line x1="1910.28" x2="1910.28" y1="655" y2="1119.2" stroke="#EBEBEB" stroke-width="1.6"/>
<line x1="1938.42" x2="1938.42" y1="655" y2="1119.2" stroke="#EBEBEB" stroke-width="1.6"/>
<line x1="1967.52" x2="1967.52" y1="655" y2="1119.2" stroke="#EBEBEB" stroke-width="1.6"/>
<line x1="1996.61" x2="1996.61" y1="655" y2="1119.2" stroke="#EBEBEB" stroke-width="1.6"/>
<line x1="2025.7" x2="2025.7" y1="655" y2="1119.2" stroke="#EBEBEB" stroke-width="1.6"/>
<line x1="2053.84" x2="2053.84" y1="655" y2="1119.2" stroke="#EBEBEB" stroke-width="1.6"/>
<line x1="2082.94" x2="2082.94" y1="655" y2="1119.2" stroke="#EBEBEB" stroke-width="1.6"/>
<line x1="2112.03" x2="2112.03" y1="655" y2="1119.2" stroke="#EBEBEB" stroke-width="1.6"/>
<line x1="2141.12" x2="2141.12" y1="655" y2="1119.2" stroke="#EBEBEB" stroke-width="1.6"/>
<line x1="2198.36" x2="2198.36" y1="655" y2="1119.2" stroke="#EBEBEB" stroke-width="1.6"/>
<line x1="2227.45" x2="2227.45" y1="655" y2="1119.2" stroke="#EBEBEB" stroke-width="1.6"/>
<line x1="2256.54" x2="2256.54" y1="655" y2="1119.2" stroke="#EBEBEB" stroke-width="1.6"/>
<line x1="1623.3" x2="2263.35" y1="1098.1" y2="1098.1" stroke="#EBEBEB" stroke-width="3.2"/>
<line x1="1623.3" x2="2263.35" y1="994.43" y2="994.43" stroke="#EBEBEB" stroke-width="3.2"/>
<line x1="1623.3" x2="2263.35" y1="890.76" y2="890.76" stroke="#EBEBEB" stroke-width="3.2"/>
<line x1="1623.3" x2="2263.35" y1="787.09" y2="787.09" stroke="#EBEBEB" stroke-width="3.2"/>
<line x1="1623.3" x2="2263.35" y1="683.42" y2="683.42" stroke="#EBEBEB" stroke-width="3.2"/>
<line x1="1669.32" x2="1669.32" y1="655" y2="1119.2" stroke="#EBEBEB" stroke-width="3.2"/>
<line x1="1726.56" x2="1726.56" y1="655" y2="1119.2" stroke="#EBEBEB" stroke-width="3.2"/>
<line x1="1784.74" x2="1784.74" y1="655" y2="1119.2" stroke="#EBEBEB" stroke-width="3.2"/>
<line x1="1842.29" x2="1842.29" y1="655" y2="1119.2" stroke="#EBEBEB" stroke-width="3.2"/>
<line x1="1900.48" x2="1900.48" y1="655" y2="1119.2" stroke="#EBEBEB" stroke-width="3.2"/>
<line x1="1957.71" x2="1957.71" y1="655" y2="1119.2" stroke="#EBEBEB" stroke-width="3.2"/>
<line x1="2015.9" x2="2015.9" y1="655" y2="1119.2" stroke="#EBEBEB" stroke-width="3.2"/>
<line x1="2073.13" x2="2073.13" y1="655" y2="1119.2" stroke="#EBEBEB" stroke-width="3.2"/>
<line x1="2131.32" x2="2131.32" y1="655" y2="1119.2" stroke="#EBEBEB" stroke-width="3.2"/>
<line x1="2169.26" x2="2169.26" y1="655" y2="1119.2" stroke="#EBEBEB" stroke-width="3.2"/>
<line x1="2217.65" x2="2217.65" y1="655" y2="1119.2" stroke="#EBEBEB" stroke-width="3.2"/>
<rect x="1652.24" y="675.5" width="34.15" height="422.6" fill="#999999"/>
<rect x="1652.24" y="1020" width="34.15" height="78.1" fill="#4D4D4D"/>
<rect x="1709.48" y="677.3" width="34.15" height="420.8" fill="#999999"/>
<rect x="1709.48" y="1056.1" width="34.15" height="42" fill="#4D4D4D"/>
<rect x="1767.66" y="747.1" width="34.15" height="351" fill="#999999"/>
<rect x="1767.66" y="1043.9" width="34.15" height="54.2" fill="#4D4D4D"/>
<rect x="1825.22" y="835.9" width="34.15" height="262.2" fill="#999999"/>
<rect x="1825.22" y="1037" width="34.15" height="61.1" fill="#4D4D4D"/>
<rect x="1883.4" y="835.9" width="34.15" height="262.2" fill="#999999"/>
<rect x="1883.4" y="996" width="34.15" height="102.1" fill="#4D4D4D"/>
<rect x="1940.64" y="835.9" width="34.15" height="262.2" fill="#999999"/>
<rect x="1940.64" y="1072.4" width="34.15" height="25.7" fill="#4D4D4D"/>
<rect x="1998.82" y="927.6" width="34.15" height="170.5" fill="#999999"/>
<rect x="1998.82" y="955" width="34.15" height="143.1" fill="#4D4D4D"/>
<rect x="2056.06" y="927.6" width="34.15" height="170.5" fill="#999999"/>
<rect x="2056.06" y="1056.1" width="34.15" height="42" fill="#4D4D4D"/>
<rect x="2152.19" y="892.2" width="34.15" height="205.9" fill="#999999"/>
<rect x="2152.19" y="1067.2" width="34.15" height="30.9" fill="#4D4D4D"/>
<rect x="2200.57" y="892.2" width="34.15" height="205.9" fill="#999999"/>
<rect x="2200.57" y="1078" width="34.15" height="20.1" fill="#4D4D4D"/>
<rect x="1623.8" y="655" width="639.55" height="464" fill="none" stroke="#333333" stroke-width="1.8"/>
<line x1="1614.8" x2="1623.8" y1="1098.1" y2="1098.1" stroke="#282828" stroke-width="2.4"/>
<text x="1607" y="1111.9" text-anchor="end" class="ax">0</text>
<line x1="1614.8" x2="1623.8" y1="994.43" y2="994.43" stroke="#282828" stroke-width="2.4"/>
<text x="1607" y="1008.23" text-anchor="end" class="ax">100</text>
<line x1="1614.8" x2="1623.8" y1="890.76" y2="890.76" stroke="#282828" stroke-width="2.4"/>
<text x="1607" y="904.56" text-anchor="end" class="ax">200</text>
<line x1="1614.8" x2="1623.8" y1="787.09" y2="787.09" stroke="#282828" stroke-width="2.4"/>
<text x="1607" y="800.89" text-anchor="end" class="ax">300</text>
<line x1="1614.8" x2="1623.8" y1="683.42" y2="683.42" stroke="#282828" stroke-width="2.4"/>
<text x="1607" y="697.22" text-anchor="end" class="ax">400</text>
</g>
<line x1="187.42" x2="187.42" y1="1119" y2="1127.7" stroke="#282828" stroke-width="2.4"/>
<text transform="translate(193.12,1137.9) rotate(-90)" text-anchor="end" class="ax">2015-01-01</text>
<line x1="244.66" x2="244.66" y1="1119" y2="1127.7" stroke="#282828" stroke-width="2.4"/>
<text transform="translate(250.36,1137.9) rotate(-90)" text-anchor="end" class="ax">2015-07-01</text>
<line x1="302.84" x2="302.84" y1="1119" y2="1127.7" stroke="#282828" stroke-width="2.4"/>
<text transform="translate(308.54,1137.9) rotate(-90)" text-anchor="end" class="ax">2016-01-01</text>
<line x1="360.39" x2="360.39" y1="1119" y2="1127.7" stroke="#282828" stroke-width="2.4"/>
<text transform="translate(366.09,1137.9) rotate(-90)" text-anchor="end" class="ax">2016-07-01</text>
<line x1="418.58" x2="418.58" y1="1119" y2="1127.7" stroke="#282828" stroke-width="2.4"/>
<text transform="translate(424.28,1137.9) rotate(-90)" text-anchor="end" class="ax">2017-01-01</text>
<line x1="475.81" x2="475.81" y1="1119" y2="1127.7" stroke="#282828" stroke-width="2.4"/>
<text transform="translate(481.51,1137.9) rotate(-90)" text-anchor="end" class="ax">2017-07-01</text>
<line x1="534" x2="534" y1="1119" y2="1127.7" stroke="#282828" stroke-width="2.4"/>
<text transform="translate(539.7,1137.9) rotate(-90)" text-anchor="end" class="ax">2018-01-01</text>
<line x1="591.23" x2="591.23" y1="1119" y2="1127.7" stroke="#282828" stroke-width="2.4"/>
<text transform="translate(596.93,1137.9) rotate(-90)" text-anchor="end" class="ax">2018-07-01</text>
<line x1="649.42" x2="649.42" y1="1119" y2="1127.7" stroke="#282828" stroke-width="2.4"/>
<text transform="translate(655.12,1137.9) rotate(-90)" text-anchor="end" class="ax">2019-01-01</text>
<line x1="687.36" x2="687.36" y1="1119" y2="1127.7" stroke="#282828" stroke-width="2.4"/>
<text transform="translate(693.06,1137.9) rotate(-90)" text-anchor="end" class="ax">2019-05-01</text>
<line x1="735.75" x2="735.75" y1="1119" y2="1127.7" stroke="#282828" stroke-width="2.4"/>
<text transform="translate(741.45,1137.9) rotate(-90)" text-anchor="end" class="ax">2019-10-01</text>
<line x1="937.62" x2="937.62" y1="1119" y2="1127.7" stroke="#282828" stroke-width="2.4"/>
<text transform="translate(943.32,1137.9) rotate(-90)" text-anchor="end" class="ax">2015-01-01</text>
<line x1="994.86" x2="994.86" y1="1119" y2="1127.7" stroke="#282828" stroke-width="2.4"/>
<text transform="translate(1000.56,1137.9) rotate(-90)" text-anchor="end" class="ax">2015-07-01</text>
<line x1="1053.04" x2="1053.04" y1="1119" y2="1127.7" stroke="#282828" stroke-width="2.4"/>
<text transform="translate(1058.74,1137.9) rotate(-90)" text-anchor="end" class="ax">2016-01-01</text>
<line x1="1110.59" x2="1110.59" y1="1119" y2="1127.7" stroke="#282828" stroke-width="2.4"/>
<text transform="translate(1116.29,1137.9) rotate(-90)" text-anchor="end" class="ax">2016-07-01</text>
<line x1="1168.78" x2="1168.78" y1="1119" y2="1127.7" stroke="#282828" stroke-width="2.4"/>
<text transform="translate(1174.48,1137.9) rotate(-90)" text-anchor="end" class="ax">2017-01-01</text>
<line x1="1226.01" x2="1226.01" y1="1119" y2="1127.7" stroke="#282828" stroke-width="2.4"/>
<text transform="translate(1231.71,1137.9) rotate(-90)" text-anchor="end" class="ax">2017-07-01</text>
<line x1="1284.2" x2="1284.2" y1="1119" y2="1127.7" stroke="#282828" stroke-width="2.4"/>
<text transform="translate(1289.9,1137.9) rotate(-90)" text-anchor="end" class="ax">2018-01-01</text>
<line x1="1341.43" x2="1341.43" y1="1119" y2="1127.7" stroke="#282828" stroke-width="2.4"/>
<text transform="translate(1347.13,1137.9) rotate(-90)" text-anchor="end" class="ax">2018-07-01</text>
<line x1="1399.62" x2="1399.62" y1="1119" y2="1127.7" stroke="#282828" stroke-width="2.4"/>
<text transform="translate(1405.32,1137.9) rotate(-90)" text-anchor="end" class="ax">2019-01-01</text>
<line x1="1437.56" x2="1437.56" y1="1119" y2="1127.7" stroke="#282828" stroke-width="2.4"/>
<text transform="translate(1443.26,1137.9) rotate(-90)" text-anchor="end" class="ax">2019-05-01</text>
<line x1="1485.95" x2="1485.95" y1="1119" y2="1127.7" stroke="#282828" stroke-width="2.4"/>
<text transform="translate(1491.65,1137.9) rotate(-90)" text-anchor="end" class="ax">2019-10-01</text>
<line x1="1669.32" x2="1669.32" y1="1119" y2="1127.7" stroke="#282828" stroke-width="2.4"/>
<text transform="translate(1675.02,1137.9) rotate(-90)" text-anchor="end" class="ax">2015-01-01</text>
<line x1="1726.56" x2="1726.56" y1="1119" y2="1127.7" stroke="#282828" stroke-width="2.4"/>
<text transform="translate(1732.26,1137.9) rotate(-90)" text-anchor="end" class="ax">2015-07-01</text>
<line x1="1784.74" x2="1784.74" y1="1119" y2="1127.7" stroke="#282828" stroke-width="2.4"/>
<text transform="translate(1790.44,1137.9) rotate(-90)" text-anchor="end" class="ax">2016-01-01</text>
<line x1="1842.29" x2="1842.29" y1="1119" y2="1127.7" stroke="#282828" stroke-width="2.4"/>
<text transform="translate(1847.99,1137.9) rotate(-90)" text-anchor="end" class="ax">2016-07-01</text>
<line x1="1900.48" x2="1900.48" y1="1119" y2="1127.7" stroke="#282828" stroke-width="2.4"/>
<text transform="translate(1906.18,1137.9) rotate(-90)" text-anchor="end" class="ax">2017-01-01</text>
<line x1="1957.71" x2="1957.71" y1="1119" y2="1127.7" stroke="#282828" stroke-width="2.4"/>
<text transform="translate(1963.41,1137.9) rotate(-90)" text-anchor="end" class="ax">2017-07-01</text>
<line x1="2015.9" x2="2015.9" y1="1119" y2="1127.7" stroke="#282828" stroke-width="2.4"/>
<text transform="translate(2021.6,1137.9) rotate(-90)" text-anchor="end" class="ax">2018-01-01</text>
<line x1="2073.13" x2="2073.13" y1="1119" y2="1127.7" stroke="#282828" stroke-width="2.4"/>
<text transform="translate(2078.83,1137.9) rotate(-90)" text-anchor="end" class="ax">2018-07-01</text>
<line x1="2131.32" x2="2131.32" y1="1119" y2="1127.7" stroke="#282828" stroke-width="2.4"/>
<text transform="translate(2137.02,1137.9) rotate(-90)" text-anchor="end" class="ax">2019-01-01</text>
<line x1="2169.26" x2="2169.26" y1="1119" y2="1127.7" stroke="#282828" stroke-width="2.4"/>
<text transform="translate(2174.96,1137.9) rotate(-90)" text-anchor="end" class="ax">2019-05-01</text>
<line x1="2217.65" x2="2217.65" y1="1119" y2="1127.7" stroke="#282828" stroke-width="2.4"/>
<text transform="translate(2223.35,1137.9) rotate(-90)" text-anchor="end" class="ax">2019-10-01</text>
<rect x="141.9" y="110.4" width="639.55" height="59.5" fill="#D9D9D9" stroke="#333333" stroke-width="1.8"/>
<text x="461.42" y="153.8" text-anchor="middle" class="st">shore</text>
<rect x="892.1" y="110.4" width="639.55" height="59.5" fill="#D9D9D9" stroke="#333333" stroke-width="1.8"/>
<text x="1211.62" y="153.8" text-anchor="middle" class="st">boat</text>
<rect x="1623.8" y="110.4" width="639.55" height="59.5" fill="#D9D9D9" stroke="#333333" stroke-width="1.8"/>
<text x="1943.32" y="153.8" text-anchor="middle" class="st">spear</text>
<rect x="2264.2" y="171.5" width="61.1" height="464.15" fill="#D9D9D9" stroke="#333333" stroke-width="1.8"/>
<text transform="translate(2280.4,403.6) rotate(90)" text-anchor="middle" class="st">Phone</text>
<rect x="2264.2" y="655" width="61.1" height="464" fill="#D9D9D9" stroke="#333333" stroke-width="1.8"/>
<text transform="translate(2280.4,887.1) rotate(90)" text-anchor="middle" class="st">Email</text>
<rect x="2326" y="170.6" width="1" height="465.95" fill="#A6A6A6"/>
<rect x="2326" y="654.1" width="1" height="465.8" fill="#A6A6A6"/>
<text x="1202.4" y="1352.9" text-anchor="middle" class="ti" style="font-size:45.4px">Period</text>
<text transform="translate(31.8,645.3) rotate(-90)" text-anchor="middle" class="ti">N</text>
<rect x="983.0" y="1.1" width="51.6" height="51.6" fill="#999999"/>
<text x="1059.2" y="40.3" class="lg">Contacts</text>
<rect x="1214.2" y="1.1" width="51.6" height="51.6" fill="#4D4D4D"/>
<text x="1290.7" y="40.3" class="lg">Responses</text>
</svg>
</body></html>
